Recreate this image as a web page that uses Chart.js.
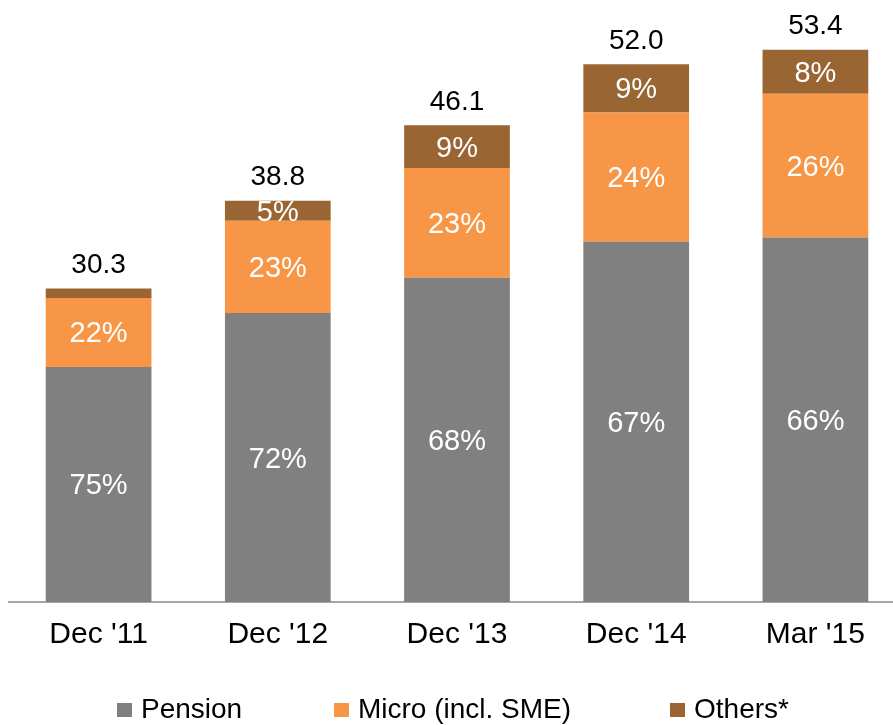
<!DOCTYPE html>
<html><head><meta charset="utf-8">
<script src="https://cdn.jsdelivr.net/npm/chart.js@4/dist/chart.umd.min.js"></script>
<style>
html,body{margin:0;padding:0;background:#fff;overflow:hidden;}
#wrap{position:relative;width:893px;height:725px;overflow:hidden;}
#box{position:absolute;left:0;top:0;width:905px;height:725px;}
#legend{position:absolute;top:692px;left:0;width:893px;height:34px;font-family:"Liberation Sans",Arial,sans-serif;font-size:28px;color:#000;}
.li{position:absolute;top:0;white-space:nowrap;line-height:34px;}
.sw{display:inline-block;width:15px;height:14px;margin-right:9px;vertical-align:middle;position:relative;top:-1px;}
</style></head>
<body>
<div id="wrap">
<div id="box"><canvas id="c" width="905" height="725"></canvas></div>
<div id="legend"></div>
</div>
<script>
const categories = ["Dec '11", "Dec '12", "Dec '13", "Dec '14", "Mar '15"];
const totals = [30.3, 38.8, 46.1, 52.0, 53.4];
const pensionPct = [75, 72, 68, 67, 66];
const microPct = [22, 23, 23, 24, 26];
const othersPct = [3, 5, 9, 9, 8];
const seriesNames = ["Pension", "Micro (incl. SME)", "Others*"];
const colors = ["#808080", "#F79646", "#996633"];

const seg = (pct) => pct.map((p, i) => totals[i] * p / 100);
const pctArrays = [pensionPct, microPct, othersPct];
const FONT = '"Liberation Sans", Arial, sans-serif';

const labelPlugin = {
  id: 'labels',
  afterDatasetsDraw(chart) {
    const ctx = chart.ctx;
    ctx.save();
    ctx.font = '29px ' + FONT;
    ctx.textAlign = 'center';
    ctx.textBaseline = 'middle';
    chart.data.datasets.forEach((ds, di) => {
      const meta = chart.getDatasetMeta(di);
      meta.data.forEach((bar, i) => {
        const h = Math.abs(bar.base - bar.y);
        if (h < 15) return;
        ctx.fillStyle = '#ffffff';
        ctx.fillText(pctArrays[di][i] + '%', bar.x, (bar.y + bar.base) / 2 + 2);
      });
    });
    const last = chart.getDatasetMeta(chart.data.datasets.length - 1);
    ctx.fillStyle = '#000000';
    ctx.font = '28px ' + FONT;
    last.data.forEach((bar, i) => {
      ctx.fillText(totals[i].toFixed(1), bar.x, bar.y - 23);
    });
    ctx.restore();
  }
};

new Chart(document.getElementById('c'), {
  type: 'bar',
  data: {
    labels: categories,
    datasets: pctArrays.map((p, k) => ({
      label: seriesNames[k],
      data: seg(p),
      backgroundColor: colors[k],
      borderWidth: 0,
      barPercentage: 0.59,
      categoryPercentage: 1.0
    }))
  },
  options: {
    responsive: false,
    animation: false,
    layout: { padding: { left: 9, right: 0, top: 0, bottom: 57 } },
    plugins: { legend: { display: false }, tooltip: { enabled: false } },
    scales: {
      x: {
        stacked: true,
        grid: { display: false, drawTicks: false },
        border: { display: true, color: '#A6A6A6', width: 2 },
        ticks: { color: '#000', font: { family: FONT, size: 30 }, padding: 15 }
      },
      y: {
        stacked: true, display: false, min: 0, max: 58.2
      }
    }
  },
  plugins: [labelPlugin]
});

const lg = document.getElementById('legend');
const lefts = [117, 334, 670];
seriesNames.forEach((n, k) => {
  const d = document.createElement('div');
  d.className = 'li';
  d.style.left = lefts[k] + 'px';
  d.innerHTML = '<span class="sw" style="background:' + colors[k] + '"></span>' + n;
  lg.appendChild(d);
});
</script>
</body></html>
